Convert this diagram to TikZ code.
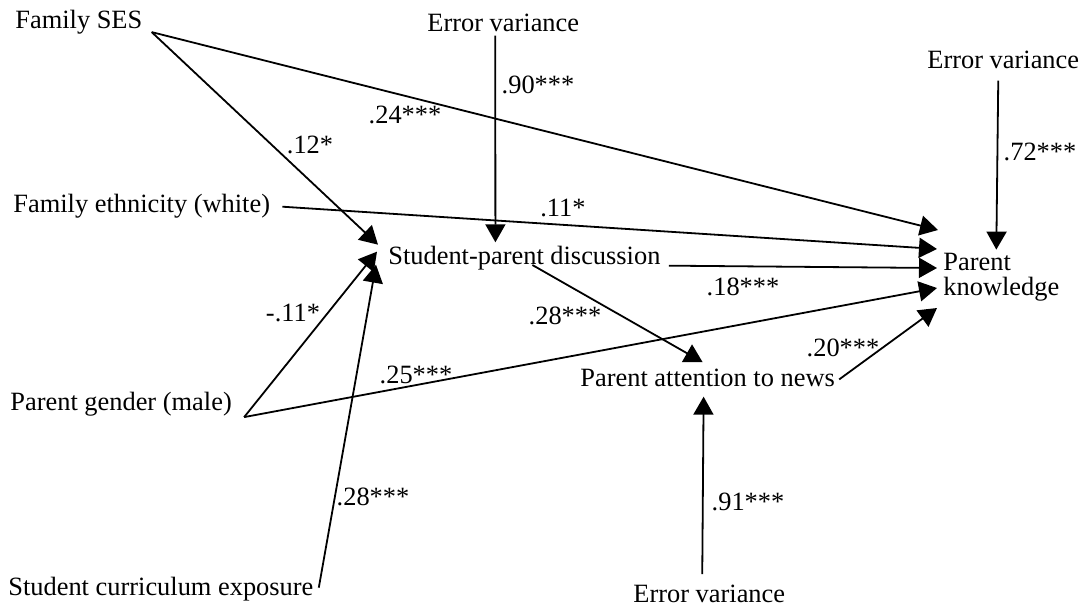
\documentclass[tikz,border=0pt]{standalone}
\usepackage{fontspec}
\setmainfont{Liberation Serif}
\usetikzlibrary{arrows.meta,calc}

\begin{document}
\begin{tikzpicture}[
    x=0.5pt, y=-0.5pt,
    var/.style={inner sep=0pt, font=\fontsize{13.2pt}{12.5pt}\selectfont},
    coef/.style={inner sep=0pt, font=\fontsize{13.2pt}{12.5pt}\selectfont},
    arrow/.style={-{Triangle[length=9pt,width=10pt]}, line width=0.9pt}
]
    \useasboundingbox (0,0) rectangle (1087,612);

    % observed variables
    \node[var, anchor=base west] (ses) at (15,28) {Family SES};
    \node[var, anchor=base west] (ethnic) at (13,212) {Family ethnicity (white)};
    \node[var, anchor=base west] (gender) at (10,410) {Parent gender (male)};
    \node[var, anchor=base west] (curric) at (8,595) {Student curriculum exposure};
    \node[var, anchor=base west] (discuss) at (388,264) {Student-parent discussion};
    \node[var, anchor=base west] (attend) at (580,386) {Parent attention to news};
    \node[var, anchor=west, align=left] (knowl) at (943,277) {Parent\\knowledge};

    % error terms
    \node[var, anchor=base west] (errdisc) at (427,31) {Error variance};
    \node[var, anchor=base west] (errknowl) at (927,68) {Error variance};
    \node[var, anchor=base west] (errattend) at (633,602) {Error variance};

    % paths
    \draw[arrow] ($(ses.south east)+(9,-2)$) -- ($(knowl.west)+(-5,-47)$);
    \draw[arrow] ($(ses.south east)+(9,-2)$) -- ($(discuss.west)+(-10,-13)$);
    \draw[arrow] ($(ethnic.east)+(12,1)$) -- ($(knowl.west)+(-6,-28)$);
    \draw[arrow] ($(gender.south east)+(12,1)$) -- ($(discuss.west)+(-11,-6)$);
    \draw[arrow] ($(gender.south east)+(12,1)$) -- ($(knowl.west)+(-6,11)$);
    \draw[arrow] ($(curric.east)+(5,-1)$) -- ($(discuss.west)+(-12,7)$);
    \draw[arrow] ($(discuss.east)+(8,8)$) -- ($(knowl.west)+(-6,-9)$);
    \draw[arrow] ($(discuss.south)+(8,-5)$) -- ($(attend.north)+(-5,-6)$);
    \draw[arrow] ($(attend.east)+(4,2)$) -- ($(knowl.west)+(-6,31)$);
    \draw[arrow] ($(errdisc.south)+(-8,4)$) -- ($(discuss.north)+(-29,-3)$);
    \draw[arrow] ($(errknowl.south)+(-5,12)$) -- ($(knowl.north)+(-5,-3)$);
    \draw[arrow] ($(errattend.north)+(-7,-10)$) -- ($(attend.south)+(-4,10)$);

    % coefficients
    \node[coef] (b12) at (310,145) {.12*};
    \node[coef] (b24) at (405,115) {.24***};
    \node[coef] (b90) at (538,85) {.90***};
    \node[coef] (b11) at (563,208) {.11*};
    \node[coef] (b72) at (1040,152) {.72***};
    \node[coef] (b18) at (743,287) {.18***};
    \node[coef] (bm11) at (293,313) {-.11*};
    \node[coef] (b25) at (416,375) {.25***};
    \node[coef] (b28a) at (565,316) {.28***};
    \node[coef] (b20) at (843,348) {.20***};
    \node[coef] (b28b) at (373,497) {.28***};
    \node[coef] (b91) at (748,502) {.91***};
\end{tikzpicture}
\end{document}
